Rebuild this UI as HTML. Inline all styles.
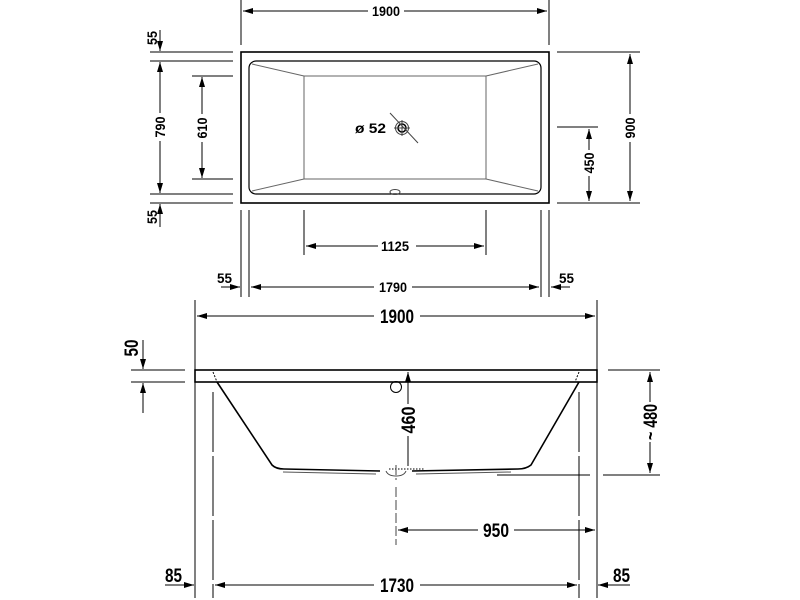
<!DOCTYPE html>
<html><head><meta charset="utf-8"><style>
html,body{margin:0;padding:0;background:#fff;}
svg{display:block;}
text{font-family:"Liberation Sans",sans-serif;font-weight:bold;font-size:14px;fill:#000;}
.b{font-size:19px;}
</style></head><body>
<svg width="800" height="600" viewBox="0 0 800 600" xmlns="http://www.w3.org/2000/svg">
<defs>
<marker id="a" viewBox="0 0 10 6" refX="10" refY="3" markerWidth="10" markerHeight="6" orient="auto-start-reverse" markerUnits="userSpaceOnUse"><path d="M0,0 L10,3 L0,6 z" fill="#000"/></marker>
</defs>
<g stroke="#000" stroke-width="1" fill="none">
<rect x="241" y="52" width="308" height="151" stroke-width="1.6"/>
<rect x="249" y="61" width="292" height="133" rx="7" stroke-width="1.2"/>
<rect x="304" y="76" width="182" height="103" stroke="#666"/>
<path d="M252,64 L304,76 M538,64 L486,76 M252,191 L304,179 M538,191 L486,179" stroke="#666"/>
<ellipse cx="395" cy="192" rx="5" ry="2.5" stroke="#444"/>
<circle cx="402" cy="128" r="6.5" stroke="#444"/>
<circle cx="402" cy="128" r="4" stroke="#000" stroke-width="1.5"/>
<path d="M390,113 L418,143 M394,128 L410,128 M402,120 L402,136" stroke="#444"/>
<path d="M241,0 V45 M549,0 V45"/>
<path d="M243,11 H368 M404,11 H547" marker-start="url(#a)" marker-end="url(#a)"/>
<path d="M150,52 H233 M150,61 H233 M150,194 H233 M150,203 H233 M192,76 H233 M192,179 H233"/>
<path d="M160,30 V51" marker-end="url(#a)"/>
<path d="M160,227 V204" marker-end="url(#a)"/>
<path d="M160,62 V113 M160,141 V193" marker-start="url(#a)" marker-end="url(#a)"/>
<path d="M202,77 V114 M202,142 V178" marker-start="url(#a)" marker-end="url(#a)"/>
<path d="M557,52 H640 M557,203 H640 M557,127 H598"/>
<path d="M630,54 V114 M630,142 V201" marker-start="url(#a)" marker-end="url(#a)"/>
<path d="M589,129 V150 M589,176 V201" marker-start="url(#a)" marker-end="url(#a)"/>
<path d="M304,210 V255 M486,210 V255 M241,210 V297 M249,210 V297 M541,210 V297 M549,210 V297"/>
<path d="M306,246 H378 M416,246 H484" marker-start="url(#a)" marker-end="url(#a)"/>
<path d="M251,287 H374 M412,287 H539" marker-start="url(#a)" marker-end="url(#a)"/>
<path d="M221,287 H240" marker-end="url(#a)"/>
<path d="M570,287 H551" marker-end="url(#a)"/>
<path d="M195,300 V598 M597,300 V598"/>
<path d="M197,316 H374 M420,316 H595" marker-start="url(#a)" marker-end="url(#a)"/>
<rect x="195" y="370" width="402" height="12" stroke-width="1.6"/>
<path d="M213,372 L217,382 M579,372 L575,382" stroke-dasharray="2,1.5"/>
<path d="M217,382 L272,465 Q276,469 284,469 L380,471 M412,471 L518,469 Q526,469 531,465 L579,382" stroke-width="1.6"/>
<path d="M283,472 L376,474 M416,474 L511,472" stroke="#555"/>
<path d="M386,471 Q388,476 396,476 Q404,476 406,471" stroke="#444"/>
<path d="M389,469 H425" stroke-dasharray="1.5,1.5"/>
<circle cx="396" cy="387" r="5.5"/>
<path d="M396,465 V480 M396,487 V545" stroke="#444" stroke-dasharray="10,3"/>
<path d="M408,466 V436 M408,404 V372" marker-end="url(#a)"/>
<path d="M608,370 H660 M603,475 H660 M497,475 H590"/>
<path d="M650,372 V402 M650,442 V473" marker-start="url(#a)" marker-end="url(#a)"/>
<path d="M131,370 H185 M131,382 H185"/>
<path d="M143,340 V369" marker-end="url(#a)"/>
<path d="M143,413 V383" marker-end="url(#a)"/>
<path d="M213,392 V598 M579,392 V598" stroke-dasharray="60,4"/>
<path d="M398,530 H478 M514,530 H595" marker-start="url(#a)" marker-end="url(#a)"/>
<path d="M215,585 H374 M420,585 H577" marker-start="url(#a)" marker-end="url(#a)"/>
<path d="M165,585 H194" marker-end="url(#a)"/>
<path d="M630,585 H598" marker-end="url(#a)"/>
</g>
<g>
<text x="372" y="16" textLength="28" lengthAdjust="spacingAndGlyphs">1900</text>
<text transform="translate(157,38) rotate(-90)" text-anchor="middle" textLength="14" lengthAdjust="spacingAndGlyphs">55</text>
<text transform="translate(157,217) rotate(-90)" text-anchor="middle" textLength="14" lengthAdjust="spacingAndGlyphs">55</text>
<text transform="translate(165,127) rotate(-90)" text-anchor="middle" textLength="21" lengthAdjust="spacingAndGlyphs">790</text>
<text transform="translate(207,128) rotate(-90)" text-anchor="middle" textLength="21" lengthAdjust="spacingAndGlyphs">610</text>
<text transform="translate(635,128) rotate(-90)" text-anchor="middle" textLength="21" lengthAdjust="spacingAndGlyphs">900</text>
<text transform="translate(594,163) rotate(-90)" text-anchor="middle" textLength="21" lengthAdjust="spacingAndGlyphs">450</text>
<text x="355" y="133" textLength="31" lengthAdjust="spacingAndGlyphs">ø 52</text>
<text x="381" y="251" textLength="28" lengthAdjust="spacingAndGlyphs">1125</text>
<text x="379" y="292" textLength="28" lengthAdjust="spacingAndGlyphs">1790</text>
<text x="217" y="283" textLength="15" lengthAdjust="spacingAndGlyphs">55</text>
<text x="559" y="283" textLength="15" lengthAdjust="spacingAndGlyphs">55</text>
<text class="b" x="380" y="323" textLength="34" lengthAdjust="spacingAndGlyphs">1900</text>
<text class="b" transform="translate(138,348) rotate(-90)" text-anchor="middle" textLength="17" lengthAdjust="spacingAndGlyphs">50</text>
<text class="b" transform="translate(415,420) rotate(-90)" text-anchor="middle" textLength="27" lengthAdjust="spacingAndGlyphs">460</text>
<text class="b" transform="translate(657,422) rotate(-90)" text-anchor="middle" textLength="36" lengthAdjust="spacingAndGlyphs">~ 480</text>
<text class="b" x="483" y="537" textLength="26" lengthAdjust="spacingAndGlyphs">950</text>
<text class="b" x="380" y="592" textLength="34" lengthAdjust="spacingAndGlyphs">1730</text>
<text class="b" x="165" y="582" textLength="17" lengthAdjust="spacingAndGlyphs">85</text>
<text class="b" x="613" y="582" textLength="17" lengthAdjust="spacingAndGlyphs">85</text>
</g>
</svg>
</body></html>
